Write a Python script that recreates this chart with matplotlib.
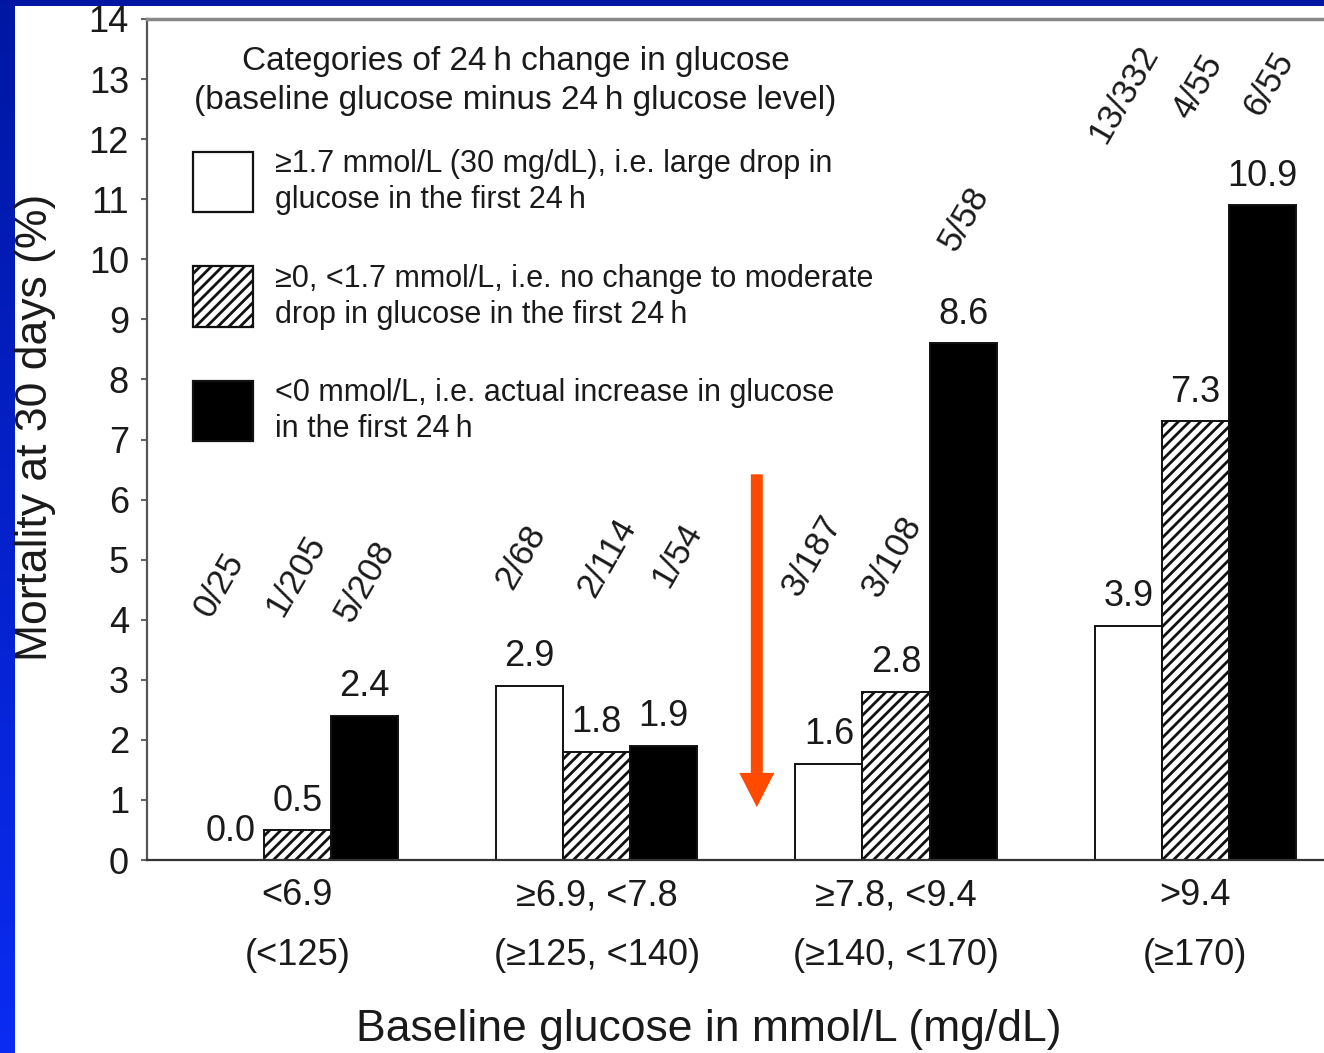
import numpy as np
import matplotlib
matplotlib.use("Agg")
import matplotlib.pyplot as plt
from matplotlib.patches import Rectangle, FancyArrow

plt.rcParams['font.family'] = ['Liberation Sans', 'DejaVu Sans']
plt.rcParams['hatch.linewidth'] = 2.0
plt.rcParams['hatch.color'] = '#111111'

# Baseline glucose categories (mmol/L and mg/dL)
groups_mmol = ["<6.9", "≥6.9, <7.8", "≥7.8, <9.4", ">9.4"]
groups_mgdl = ["(<125)", "(≥125, <140)", "(≥140, <170)", "(≥170)"]

# 30-day mortality (%) by 24 h change in glucose
large_drop = [0.0, 2.9, 1.6, 3.9]
moderate_drop = [0.5, 1.8, 2.8, 7.3]
increase = [2.4, 1.9, 8.6, 10.9]

# deaths / patients
large_drop_n = ["0/25", "2/68", "3/187", "13/332"]
moderate_drop_n = ["1/205", "2/114", "3/108", "4/55"]
increase_n = ["5/208", "1/54", "5/58", "6/55"]

legend_title = "Categories of 24\u2009h change in glucose\n(baseline glucose minus 24\u2009h glucose level)"
legend_labels = [
    "≥1.7 mmol/L (30 mg/dL), i.e. large drop in\nglucose in the first 24\u2009h",
    "≥0, <1.7 mmol/L, i.e. no change to moderate\ndrop in glucose in the first 24\u2009h",
    "<0 mmol/L, i.e. actual increase in glucose\nin the first 24\u2009h",
]

# layout of the rotated n/N labels: centre height (data units) and x shift (px)
frac_y = [[4.58, 5.05, 5.07, 12.75],
          [4.73, 5.03, 5.05, 12.87],
          [4.63, 5.08, 10.68, 12.92]]
frac_dx = [[-11, -9, -17, -5],
           [-1, 10, -4, 3],
           [1, 13, 1, 6]]

TXT = '#1a1a1a'
W, H = 1324, 1053
fig = plt.figure(figsize=(W / 100, H / 100), dpi=100)

# blue slide frame
bg = fig.add_axes([0, 0, 1, 1], zorder=-10)
grad = np.linspace(0, 1, 256)[:, None]
top_c = np.array([0.0, 0.09, 0.64])
bot_c = np.array([0.04, 0.17, 0.95])
img = top_c[None, None, :] * (1 - grad[..., None]) + bot_c[None, None, :] * grad[..., None]
bg.imshow(np.repeat(img, 2, axis=1), aspect='auto', extent=[0, 1, 0, 1], origin='upper')
bg.add_patch(Rectangle((15 / W, 0), 1, 1 - 6 / H, color='white', lw=0))
bg.set_xlim(0, 1)
bg.set_ylim(0, 1)
bg.axis('off')

ax_top = 19
ax = fig.add_axes([147 / W, 1 - 860 / H, 1 - 147 / W + 0.001, (860 - ax_top) / H])
ax.set_facecolor('white')

x = np.arange(len(groups_mmol))
bw = 0.224
series = [large_drop, moderate_drop, increase]
fracs = [large_drop_n, moderate_drop_n, increase_n]
styles = [dict(color='white', hatch=None),
          dict(color='white', hatch='///'),
          dict(color='black', hatch=None)]

for k, (vals, st) in enumerate(zip(series, styles)):
    xs = x + (k - 1) * bw
    ax.bar(xs, vals, width=bw, facecolor=st['color'], edgecolor='#111111',
           linewidth=1.4, hatch=st['hatch'], zorder=2)
    for i, v in enumerate(vals):
        ax.annotate(f"{v:.1f}", (xs[i], v), xytext=(0, 14), textcoords='offset points',
                    ha='center', va='baseline', fontsize=26, color=TXT)
        ax.annotate(fracs[k][i], (xs[i], frac_y[k][i]), xytext=(frac_dx[k][i] * 0.72, 0),
                    textcoords='offset points', ha='center', va='center',
                    rotation=60, fontsize=25, color=TXT)

# legend block
leg_x = -0.348
leg_w = 0.2007
leg_bottoms = [10.78, 8.88, 6.98]
for st, b, lab in zip(styles, leg_bottoms, legend_labels):
    ax.add_patch(Rectangle((leg_x, b), leg_w, 1.0, facecolor=st['color'],
                           edgecolor='#111111', linewidth=1.6, hatch=st['hatch'], zorder=2))
    ax.text(-0.074, b + 0.5, lab, ha='left', va='center', fontsize=22,
            linespacing=1.26, color=TXT)
ax.text(0.729, 12.97, legend_title, ha='center', va='center', fontsize=24,
        linespacing=1.33, color=TXT)

# arrow
ax.add_patch(FancyArrow(1.535, 6.42, 0, 0.88 - 6.42, width=0.040, head_width=0.117,
                        head_length=0.57, length_includes_head=True,
                        color='#FF4A00', lw=0, zorder=3))

ax.set_xlim(-0.502, 3.434)
ax.set_ylim(0, 14)
ax.set_yticks(range(0, 15))
ax.tick_params(axis='y', direction='out', length=4, width=1.5, color='#666666',
               labelsize=26, labelcolor=TXT, pad=9)
ax.set_xticks(x, labels=[f"{a}\n{b}" for a, b in zip(groups_mmol, groups_mgdl)])
ax.tick_params(axis='x', length=0, labelsize=26, labelcolor=TXT, pad=13)
for t in ax.get_xticklabels():
    t.set_linespacing(1.94)

ax.spines['right'].set_visible(False)
ax.spines['left'].set_color('#555555')
ax.spines['left'].set_linewidth(1.6)
ax.spines['top'].set_color('#888888')
ax.spines['top'].set_linewidth(2.5)
ax.spines['bottom'].set_color('#333333')
ax.spines['bottom'].set_linewidth(1.6)

span = 860 - ax_top
ax.set_ylabel("Mortality at 30 days (%)", fontsize=32, color=TXT, va='center')
ax.yaxis.set_label_coords((36 - 147) / 1177, (860 - 427) / span)
ax.set_xlabel("Baseline glucose in mmol/L (mg/dL)", fontsize=32, color=TXT, va='center')
ax.xaxis.set_label_coords((708 - 147) / 1177, (860 - 1030) / span)

fig.savefig("out.png", dpi=100)
